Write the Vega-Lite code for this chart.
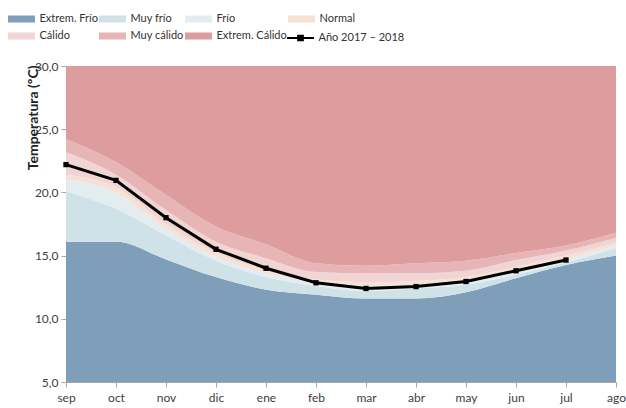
{
  "$schema": "https://vega.github.io/schema/vega-lite/v6.json",
  "width": 550,
  "height": 316,
  "autosize": {"type": "none"},
  "padding": {"left": 66, "top": 66, "right": 10, "bottom": 26},
  "background": "white",
  "config": {
    "view": {"stroke": null},
    "font": "Lato",
    "axis": {"grid": false, "domainColor": "#a6a6a6", "tickColor": "#a6a6a6", "tickSize": 5, "labelFont": "Lato", "labelFontSize": 12, "labelColor": "#404040"}
  },
  "resolve": {"scale": {"color": "independent"}},
  "datasets": {
    "bandas": [
      {"mes": "sep", "banda": "Extrem. Frío", "lo": 5, "hi": 16.1},
      {"mes": "oct", "banda": "Extrem. Frío", "lo": 5, "hi": 16.1},
      {"mes": "nov", "banda": "Extrem. Frío", "lo": 5, "hi": 14.7},
      {"mes": "dic", "banda": "Extrem. Frío", "lo": 5, "hi": 13.3},
      {"mes": "ene", "banda": "Extrem. Frío", "lo": 5, "hi": 12.3},
      {"mes": "feb", "banda": "Extrem. Frío", "lo": 5, "hi": 11.9},
      {"mes": "mar", "banda": "Extrem. Frío", "lo": 5, "hi": 11.6},
      {"mes": "abr", "banda": "Extrem. Frío", "lo": 5, "hi": 11.6},
      {"mes": "may", "banda": "Extrem. Frío", "lo": 5, "hi": 12.1},
      {"mes": "jun", "banda": "Extrem. Frío", "lo": 5, "hi": 13.2},
      {"mes": "jul", "banda": "Extrem. Frío", "lo": 5, "hi": 14.25},
      {"mes": "ago", "banda": "Extrem. Frío", "lo": 5, "hi": 15.0},

      {"mes": "sep", "banda": "Muy frío", "lo": 16.1, "hi": 20.1},
      {"mes": "oct", "banda": "Muy frío", "lo": 16.1, "hi": 18.7},
      {"mes": "nov", "banda": "Muy frío", "lo": 14.7, "hi": 16.6},
      {"mes": "dic", "banda": "Muy frío", "lo": 13.3, "hi": 14.6},
      {"mes": "ene", "banda": "Muy frío", "lo": 12.3, "hi": 13.3},
      {"mes": "feb", "banda": "Muy frío", "lo": 11.9, "hi": 12.6},
      {"mes": "mar", "banda": "Muy frío", "lo": 11.6, "hi": 12.2},
      {"mes": "abr", "banda": "Muy frío", "lo": 11.6, "hi": 12.4},
      {"mes": "may", "banda": "Muy frío", "lo": 12.1, "hi": 12.7},
      {"mes": "jun", "banda": "Muy frío", "lo": 13.2, "hi": 13.5},
      {"mes": "jul", "banda": "Muy frío", "lo": 14.25, "hi": 14.45},
      {"mes": "ago", "banda": "Muy frío", "lo": 15.0, "hi": 15.6},

      {"mes": "sep", "banda": "Frío", "lo": 20.1, "hi": 21.0},
      {"mes": "oct", "banda": "Frío", "lo": 18.7, "hi": 20.0},
      {"mes": "nov", "banda": "Frío", "lo": 16.6, "hi": 17.1},
      {"mes": "dic", "banda": "Frío", "lo": 14.6, "hi": 14.9},
      {"mes": "ene", "banda": "Frío", "lo": 13.3, "hi": 13.6},
      {"mes": "feb", "banda": "Frío", "lo": 12.6, "hi": 12.9},
      {"mes": "mar", "banda": "Frío", "lo": 12.2, "hi": 12.6},
      {"mes": "abr", "banda": "Frío", "lo": 12.4, "hi": 12.7},
      {"mes": "may", "banda": "Frío", "lo": 12.7, "hi": 13.0},
      {"mes": "jun", "banda": "Frío", "lo": 13.5, "hi": 13.8},
      {"mes": "jul", "banda": "Frío", "lo": 14.45, "hi": 14.7},
      {"mes": "ago", "banda": "Frío", "lo": 15.6, "hi": 15.8},

      {"mes": "sep", "banda": "Normal", "lo": 21.0, "hi": 21.4},
      {"mes": "oct", "banda": "Normal", "lo": 20.0, "hi": 20.4},
      {"mes": "nov", "banda": "Normal", "lo": 17.1, "hi": 17.5},
      {"mes": "dic", "banda": "Normal", "lo": 14.9, "hi": 15.2},
      {"mes": "ene", "banda": "Normal", "lo": 13.6, "hi": 13.9},
      {"mes": "feb", "banda": "Normal", "lo": 12.9, "hi": 13.1},
      {"mes": "mar", "banda": "Normal", "lo": 12.6, "hi": 12.9},
      {"mes": "abr", "banda": "Normal", "lo": 12.7, "hi": 13.0},
      {"mes": "may", "banda": "Normal", "lo": 13.0, "hi": 13.3},
      {"mes": "jun", "banda": "Normal", "lo": 13.8, "hi": 14.1},
      {"mes": "jul", "banda": "Normal", "lo": 14.7, "hi": 15.0},
      {"mes": "ago", "banda": "Normal", "lo": 15.8, "hi": 16.0},

      {"mes": "sep", "banda": "Cálido", "lo": 21.4, "hi": 23.2},
      {"mes": "oct", "banda": "Cálido", "lo": 20.4, "hi": 21.4},
      {"mes": "nov", "banda": "Cálido", "lo": 17.5, "hi": 18.6},
      {"mes": "dic", "banda": "Cálido", "lo": 15.2, "hi": 16.1},
      {"mes": "ene", "banda": "Cálido", "lo": 13.9, "hi": 14.8},
      {"mes": "feb", "banda": "Cálido", "lo": 13.1, "hi": 13.7},
      {"mes": "mar", "banda": "Cálido", "lo": 12.9, "hi": 13.6},
      {"mes": "abr", "banda": "Cálido", "lo": 13.0, "hi": 13.6},
      {"mes": "may", "banda": "Cálido", "lo": 13.3, "hi": 13.8},
      {"mes": "jun", "banda": "Cálido", "lo": 14.1, "hi": 14.65},
      {"mes": "jul", "banda": "Cálido", "lo": 15.0, "hi": 15.4},
      {"mes": "ago", "banda": "Cálido", "lo": 16.0, "hi": 16.4},

      {"mes": "sep", "banda": "Muy cálido", "lo": 23.2, "hi": 24.2},
      {"mes": "oct", "banda": "Muy cálido", "lo": 21.4, "hi": 22.4},
      {"mes": "nov", "banda": "Muy cálido", "lo": 18.6, "hi": 19.8},
      {"mes": "dic", "banda": "Muy cálido", "lo": 16.1, "hi": 17.3},
      {"mes": "ene", "banda": "Muy cálido", "lo": 14.8, "hi": 15.9},
      {"mes": "feb", "banda": "Muy cálido", "lo": 13.7, "hi": 14.4},
      {"mes": "mar", "banda": "Muy cálido", "lo": 13.6, "hi": 14.2},
      {"mes": "abr", "banda": "Muy cálido", "lo": 13.6, "hi": 14.4},
      {"mes": "may", "banda": "Muy cálido", "lo": 13.8, "hi": 14.6},
      {"mes": "jun", "banda": "Muy cálido", "lo": 14.65, "hi": 15.2},
      {"mes": "jul", "banda": "Muy cálido", "lo": 15.4, "hi": 15.8},
      {"mes": "ago", "banda": "Muy cálido", "lo": 16.4, "hi": 16.8},

      {"mes": "sep", "banda": "Extrem. Cálido", "lo": 24.2, "hi": 30},
      {"mes": "oct", "banda": "Extrem. Cálido", "lo": 22.4, "hi": 30},
      {"mes": "nov", "banda": "Extrem. Cálido", "lo": 19.8, "hi": 30},
      {"mes": "dic", "banda": "Extrem. Cálido", "lo": 17.3, "hi": 30},
      {"mes": "ene", "banda": "Extrem. Cálido", "lo": 15.9, "hi": 30},
      {"mes": "feb", "banda": "Extrem. Cálido", "lo": 14.4, "hi": 30},
      {"mes": "mar", "banda": "Extrem. Cálido", "lo": 14.2, "hi": 30},
      {"mes": "abr", "banda": "Extrem. Cálido", "lo": 14.4, "hi": 30},
      {"mes": "may", "banda": "Extrem. Cálido", "lo": 14.6, "hi": 30},
      {"mes": "jun", "banda": "Extrem. Cálido", "lo": 15.2, "hi": 30},
      {"mes": "jul", "banda": "Extrem. Cálido", "lo": 15.8, "hi": 30},
      {"mes": "ago", "banda": "Extrem. Cálido", "lo": 16.8, "hi": 30}
    ],
    "anio": [
      {"mes": "sep", "temp": 22.2, "serie": "Año 2017 – 2018"},
      {"mes": "oct", "temp": 20.95, "serie": "Año 2017 – 2018"},
      {"mes": "nov", "temp": 18.0, "serie": "Año 2017 – 2018"},
      {"mes": "dic", "temp": 15.5, "serie": "Año 2017 – 2018"},
      {"mes": "ene", "temp": 14.0, "serie": "Año 2017 – 2018"},
      {"mes": "feb", "temp": 12.85, "serie": "Año 2017 – 2018"},
      {"mes": "mar", "temp": 12.4, "serie": "Año 2017 – 2018"},
      {"mes": "abr", "temp": 12.55, "serie": "Año 2017 – 2018"},
      {"mes": "may", "temp": 12.95, "serie": "Año 2017 – 2018"},
      {"mes": "jun", "temp": 13.8, "serie": "Año 2017 – 2018"},
      {"mes": "jul", "temp": 14.65, "serie": "Año 2017 – 2018"}
    ]
  },
  "layer": [
    {
      "data": {"name": "bandas"},
      "mark": {"type": "area", "interpolate": "monotone", "opacity": 1},
      "encoding": {
        "x": {
          "field": "mes", "type": "ordinal", "sort": null,
          "scale": {"type": "point", "padding": 0, "domain": ["sep","oct","nov","dic","ene","feb","mar","abr","may","jun","jul","ago"]},
          "axis": {"title": null, "labelAngle": 0, "labelPadding": 5, "domain": true, "ticks": true}
        },
        "y": {
          "field": "lo", "type": "quantitative",
          "scale": {"domain": [5, 30], "nice": false, "zero": false},
          "axis": {
            "values": [5, 10, 15, 20, 25, 30],
            "labelExpr": "replace(format(datum.value, '.1f'), '.', ',')",
            "labelPadding": 3,
            "title": "Temperatura (ºC)",
            "titleFont": "Lato", "titleFontSize": 14, "titleFontWeight": "bold", "titleColor": "#222222",
            "titleAngle": -90, "titleX": -33, "titleY": -1, "titleAlign": "right", "titleBaseline": "middle"
          }
        },
        "y2": {"field": "hi"},
        "color": {
          "field": "banda", "type": "nominal",
          "scale": {
            "domain": ["Extrem. Frío", "Muy frío", "Frío", "Normal", "Cálido", "Muy cálido", "Extrem. Cálido"],
            "range": ["#7f9eba", "#cfe2e8", "#e3ecef", "#f7e0d4", "#f1d4d4", "#e8b5b6", "#dd9d9e"]
          },
          "legend": {
            "title": null,
            "orient": "none",
            "legendX": -58,
            "legendY": -54,
            "direction": "horizontal",
            "columns": 4,
            "columnPadding": 1,
            "rowPadding": 5,
            "symbolType": "M-2,-0.52L2,-0.52L2,0.52L-2,0.52Z",
            "symbolSize": 182,
            "symbolStrokeWidth": 0,
            "symbolOffset": 6.5,
            "symbolOpacity": 1,
            "labelFont": "Lato",
            "labelFontSize": 11,
            "labelColor": "#333333",
            "labelOffset": 11,
            "labelLimit": 200
          }
        }
      }
    },
    {
      "data": {"name": "anio"},
      "mark": {"type": "line", "strokeWidth": 3, "point": {"filled": true, "shape": "square", "size": 28, "color": "black", "opacity": 1}},
      "encoding": {
        "x": {"field": "mes", "type": "ordinal", "sort": null},
        "y": {"field": "temp", "type": "quantitative"},
        "color": {
          "field": "serie", "type": "nominal",
          "scale": {"domain": ["Año 2017 – 2018"], "range": ["#000000"]},
          "legend": {
            "title": null,
            "orient": "none",
            "legendX": 221,
            "legendY": -35,
            "symbolType": "M-2,-0.15L2,-0.15L2,0.15L-2,0.15Z M-0.5,-0.5L0.5,-0.5L0.5,0.5L-0.5,0.5Z",
            "symbolSize": 182,
            "symbolStrokeWidth": 0,
            "symbolOffset": 6.5,
            "symbolFillColor": "#000000",
            "symbolOpacity": 1,
            "labelFont": "Lato",
            "labelFontSize": 11,
            "labelColor": "#333333",
            "labelOffset": 11,
            "labelLimit": 200
          }
        }
      }
    }
  ]
}
